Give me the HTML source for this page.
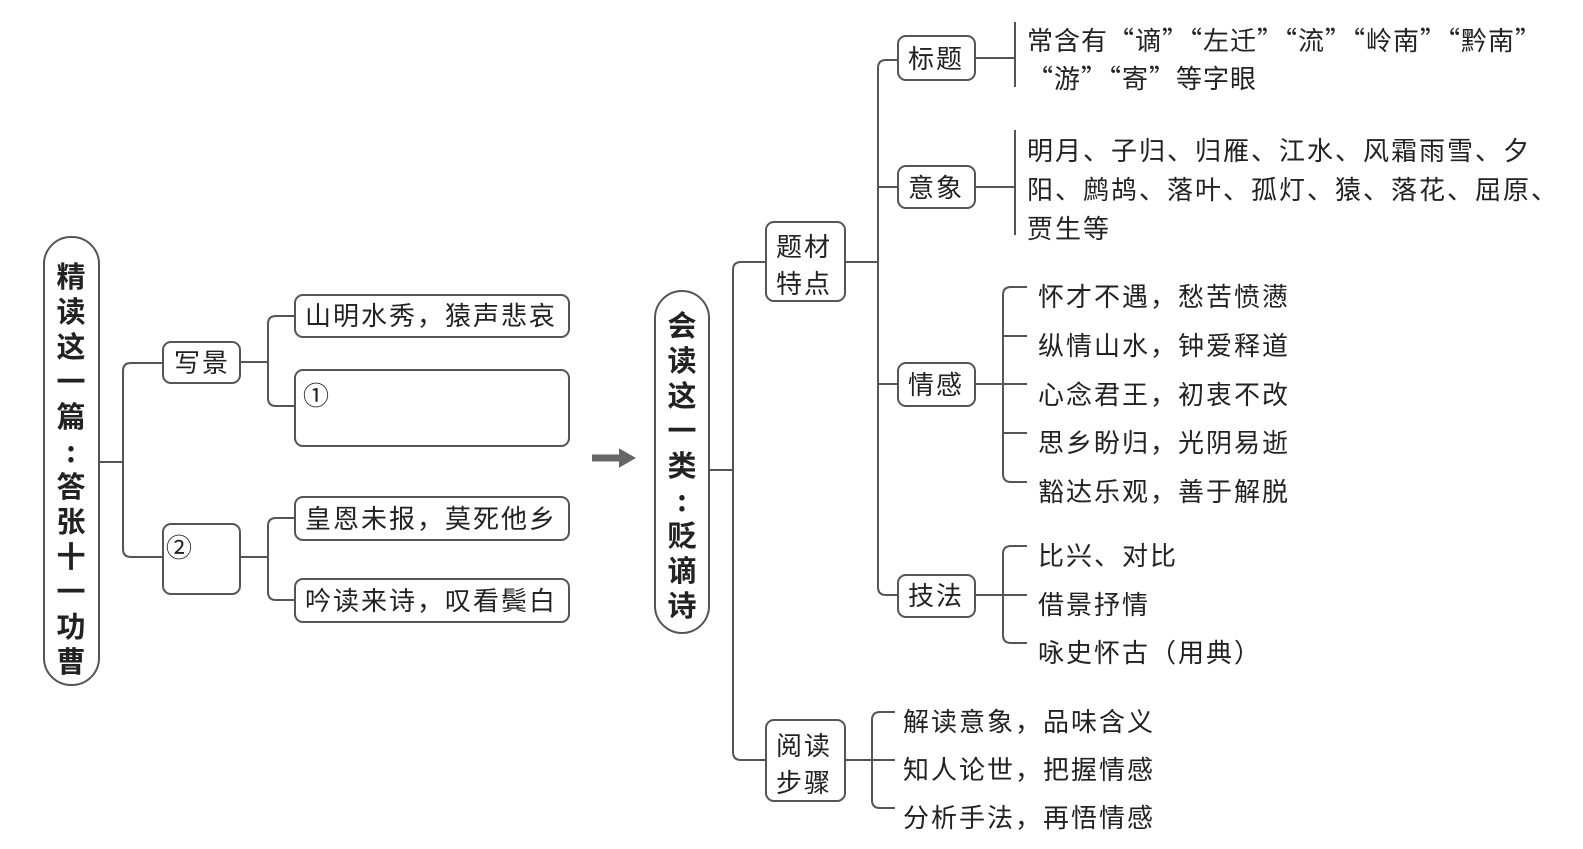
<!DOCTYPE html>
<html><head><meta charset="utf-8"><style>
body{margin:0;width:1583px;height:849px;background:#fff;position:relative;overflow:hidden;font-family:"Liberation Sans","Noto Sans CJK SC",sans-serif;color:#222}
.t{position:absolute;font-family:"Noto Sans CJK SC",sans-serif;font-size:26px;line-height:30px;white-space:nowrap;letter-spacing:2px}
.b{position:absolute;border:2px solid #555;border-radius:9px;box-sizing:border-box}
.v{position:absolute;font-family:"Noto Sans CJK SC",sans-serif;font-weight:bold;font-size:29px;text-align:center;width:40px}
svg{position:absolute;left:0;top:0}
</style></head><body>
<svg width="1583" height="849" fill="none" stroke="#555" stroke-width="2">
<path d="M99 462H123M131 363H162M131 557H162M123 371V549M123 371Q123 363 131 363M123 549Q123 557 131 557"/>
<path d="M240 362H268M268 324V398M268 324Q268 316 276 316H294M268 398Q268 406 276 406H294"/>
<path d="M240 557H268M268 526V592M268 526Q268 518 276 518H294M268 592Q268 600 276 600H294"/>
<path d="M709 470H733M733 270V752M733 270Q733 262 741 262H765M733 752Q733 760 741 760H765"/>
<path d="M845 262H878M878 68V587M878 68Q878 60 886 60H897M878 187H897M878 384H897M878 587Q878 595 886 595H897"/>
<path d="M975 58H1015M1015 22V87M975 187H1015M1015 130V235"/>
<path d="M975 384H1027M1003 295V474M1003 295Q1003 287 1011 287H1027M1003 336H1027M1003 433H1027M1003 474Q1003 482 1011 482H1027"/>
<path d="M975 595H1027M1003 554V635M1003 554Q1003 546 1011 546H1027M1003 635Q1003 643 1011 643H1027"/>
<path d="M845 760H895M872 720V800M872 720Q872 712 880 712H895M872 800Q872 808 880 808H895"/>
<path d="M592 458H622" stroke="#666" stroke-width="7"/>
<path d="M620 450L634 458L620 466Z" fill="#666" stroke="#666"/>
</svg>
<div class="b" style="left:43px;top:236px;width:57px;height:450px;border-radius:28px"></div>
<div class="v" style="left:51px;top:258px;line-height:35px">精<br>读<br>这<br>一<br>篇<br>:<br>答<br>张<br>十<br>一<br>功<br>曹</div>
<div class="b" style="left:654px;top:290px;width:56px;height:344px;border-radius:28px"></div>
<div class="v" style="left:662px;top:307px;line-height:35px">会<br>读<br>这<br>一<br>类<br>:<br>贬<br>谪<br>诗</div>
<div class="b" style="left:162px;top:341px;width:79px;height:43px"></div><div class="t" style="left:174px;top:347px">写景</div>
<div class="b" style="left:162px;top:523px;width:79px;height:72px"></div><div class="t" style="left:166px;top:532px">②</div>
<div class="b" style="left:294px;top:294px;width:276px;height:44px"></div><div class="t" style="left:305px;top:300px">山明水秀，猿声悲哀</div>
<div class="b" style="left:294px;top:369px;width:276px;height:78px"></div><div class="t" style="left:303px;top:380px">①</div>
<div class="b" style="left:294px;top:496px;width:276px;height:45px"></div><div class="t" style="left:305px;top:503px">皇恩未报，莫死他乡</div>
<div class="b" style="left:294px;top:578px;width:276px;height:45px"></div><div class="t" style="left:305px;top:585px">吟读来诗，叹看鬓白</div>
<div class="b" style="left:765px;top:221px;width:81px;height:81px"></div><div class="t" style="left:776px;top:227px;line-height:37px">题材<br>特点</div>
<div class="b" style="left:765px;top:719px;width:81px;height:83px"></div><div class="t" style="left:776px;top:726px;line-height:37px">阅读<br>步骤</div>
<div class="b" style="left:897px;top:35px;width:79px;height:46px"></div><div class="t" style="left:908px;top:43px">标题</div>
<div class="b" style="left:897px;top:165px;width:79px;height:44px"></div><div class="t" style="left:908px;top:172px">意象</div>
<div class="b" style="left:897px;top:362px;width:79px;height:45px"></div><div class="t" style="left:908px;top:369px">情感</div>
<div class="b" style="left:897px;top:574px;width:79px;height:44px"></div><div class="t" style="left:908px;top:580px">技法</div>
<div class="t" style="left:1027px;top:21px;line-height:38px;letter-spacing:1px">常含有“谪”“左迁”“流”“岭南”“黔南”<br>“游”“寄”等字眼</div>
<div class="t" style="left:1027px;top:130px;line-height:39px">明月、子归、归雁、江水、风霜雨雪、夕<br>阳、鹧鸪、落叶、孤灯、猿、落花、屈原、<br>贾生等</div>
<div class="t" style="left:1038px;top:272px;line-height:48.75px">怀才不遇，愁苦愤懑<br>纵情山水，钟爱释道<br>心念君王，初衷不改<br>思乡盼归，光阴易逝<br>豁达乐观，善于解脱</div>
<div class="t" style="left:1038px;top:531px;line-height:48.5px">比兴、对比<br>借景抒情<br>咏史怀古（用典）</div>
<div class="t" style="left:903px;top:697px;line-height:48px">解读意象，品味含义<br>知人论世，把握情感<br>分析手法，再悟情感</div>
</body></html>
